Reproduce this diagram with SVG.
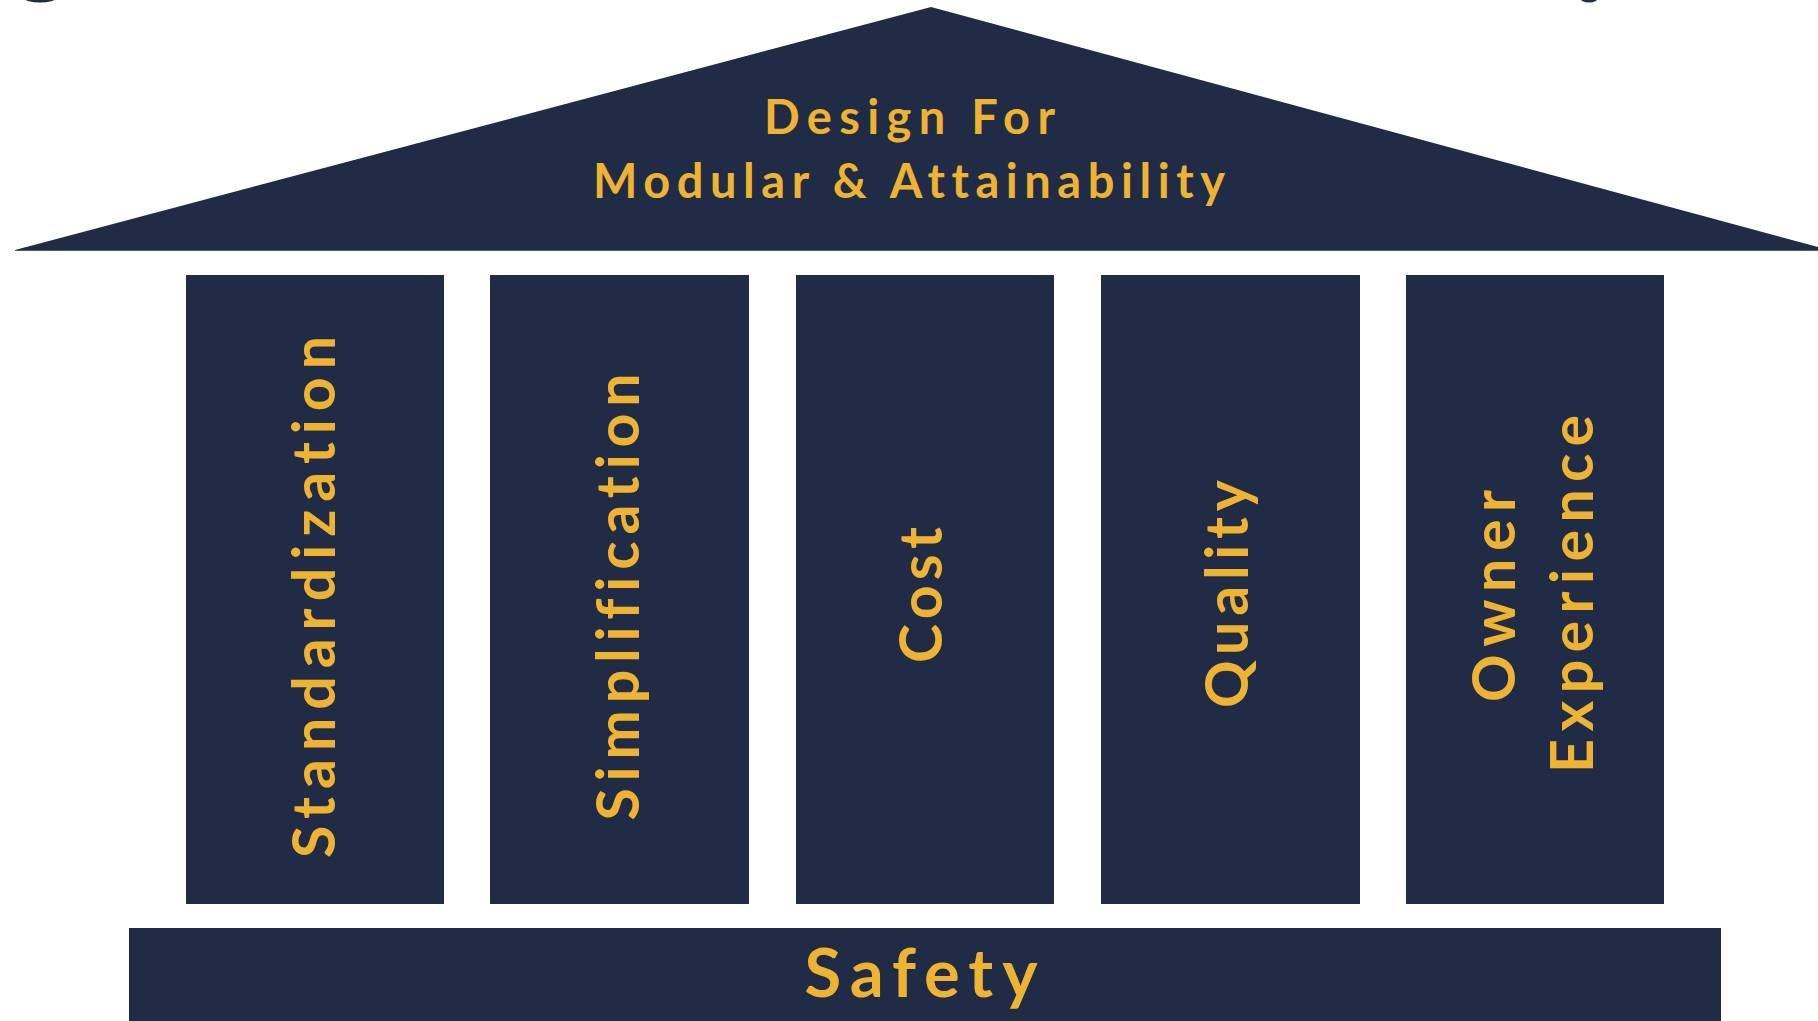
<svg xmlns="http://www.w3.org/2000/svg" width="1818" height="1021" viewBox="0 0 1818 1021">
<style>
.dark{fill:#202b46}
.lbl{fill:#eeb333;font-family:Lato,"Open Sans","Liberation Sans",sans-serif;font-weight:bold;font-variant-ligatures:none;font-feature-settings:"liga" 0,"clig" 0,"dlig" 0}
.v{font-size:59px;text-anchor:middle}
</style>
<rect width="1818" height="1021" fill="#ffffff"/>
<g id="fragments">
<ellipse class="dark" cx="40" cy="-3" rx="17" ry="5.5"/>
<ellipse class="dark" cx="1589" cy="-2" rx="9" ry="4.5"/>
</g>
<g id="roof">
<polygon class="dark" points="931,7 1818,247 1818,250 15,250"/>
<line x1="15" y1="250.5" x2="1818" y2="250.5" stroke="#4e5d7a" stroke-width="1.2"/>
<text class="lbl" x="909.5" y="134" font-size="47" text-anchor="middle" textLength="291" lengthAdjust="spacing">Design For</text>
<text class="lbl" x="909" y="198" font-size="47" text-anchor="middle" textLength="632" lengthAdjust="spacing">Modular &amp; Attainability</text>
</g>
<g id="pillar-standardization">
<rect class="dark" x="186" y="275" width="258" height="629"/>
<text class="lbl v" transform="translate(335,597) rotate(-90)" textLength="522" lengthAdjust="spacing">Standardization</text>
</g>
<g id="pillar-simplification">
<rect class="dark" x="490" y="275" width="259" height="629"/>
<text class="lbl v" transform="translate(639,597) rotate(-90)" textLength="447" lengthAdjust="spacing">Simplification</text>
</g>
<g id="pillar-cost">
<rect class="dark" x="796" y="275" width="258" height="629"/>
<text class="lbl v" transform="translate(942,595) rotate(-90)" textLength="136" lengthAdjust="spacing">Cost</text>
</g>
<g id="pillar-quality">
<rect class="dark" x="1101" y="275" width="259" height="629"/>
<text class="lbl v" transform="translate(1248,594) rotate(-90)" textLength="228" lengthAdjust="spacing">Quality</text>
</g>
<g id="pillar-owner-experience">
<rect class="dark" x="1406" y="275" width="258" height="629"/>
<text class="lbl v" transform="translate(1515,596) rotate(-90)" textLength="212" lengthAdjust="spacing">Owner</text>
<text class="lbl v" transform="translate(1593,594) rotate(-90)" textLength="358" lengthAdjust="spacing">Experience</text>
</g>
<g id="base-safety">
<rect class="dark" x="129" y="928" width="1592" height="100"/>
<text class="lbl" x="921" y="997" font-size="67" text-anchor="middle" textLength="233" lengthAdjust="spacing">Safety</text>
</g>
<g id="connectors"></g>
</svg>
